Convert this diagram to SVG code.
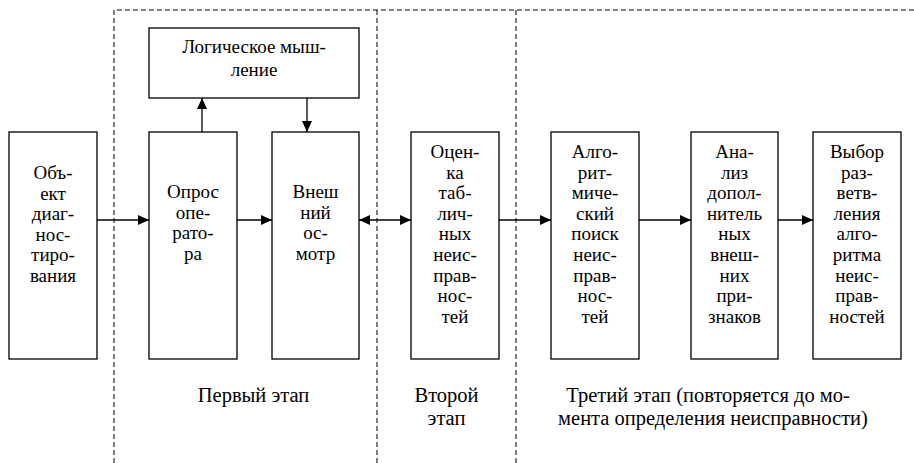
<svg xmlns="http://www.w3.org/2000/svg" width="914" height="463" viewBox="0 0 914 463">
  <style>
    .box { fill: #fff; stroke: #000; stroke-width: 1.3; }
    .stage { fill: none; stroke: #000; stroke-width: 1; stroke-dasharray: 5 3; }
    .conn { fill: none; stroke: #000; stroke-width: 1.3; }
    text { font-family: "Liberation Serif", "Times New Roman", serif; font-size: 19px; fill: #000; text-anchor: middle; }
    .caption { font-size: 20.5px; }
  </style>
  <defs>
    <marker id="arrow" markerUnits="userSpaceOnUse" markerWidth="12" markerHeight="11" refX="11" refY="5" orient="auto">
      <path d="M0,0 L11,5 L0,10 z" fill="#000"/>
    </marker>
    <marker id="arrowStart" markerUnits="userSpaceOnUse" markerWidth="12" markerHeight="11" refX="0" refY="5" orient="auto">
      <path d="M11,0 L0,5 L11,10 z" fill="#000"/>
    </marker>
  </defs>

  <!-- stage boundaries -->
  <g id="stages">
    <path class="stage" d="M114,463 V10 H914"/>
    <path class="stage" d="M377,10 V463"/>
    <path class="stage" d="M516,10 V463"/>
  </g>

  <!-- connectors -->
  <g id="connectors">
    <path class="conn" d="M97,220 H149" marker-end="url(#arrow)"/>
    <path class="conn" d="M237,220 H272" marker-end="url(#arrow)"/>
    <path class="conn" d="M359,220 H411" marker-start="url(#arrowStart)" marker-end="url(#arrow)"/>
    <path class="conn" d="M499,220 H551" marker-end="url(#arrow)"/>
    <path class="conn" d="M639,220 H691" marker-end="url(#arrow)"/>
    <path class="conn" d="M778,220 H813" marker-end="url(#arrow)"/>
    <path class="conn" d="M202,132 V98" marker-end="url(#arrow)"/>
    <path class="conn" d="M307,98 V132" marker-end="url(#arrow)"/>
  </g>

  <g id="object">
    <rect class="box" x="9" y="132" width="88" height="227"/>
    <text x="53" y="179">Объ-</text>
    <text x="53" y="199.6">ект</text>
    <text x="53" y="220.2">диаг-</text>
    <text x="53" y="240.8">нос-</text>
    <text x="53" y="261.4">тиро-</text>
    <text x="53" y="282">вания</text>
  </g>

  <g id="logic">
    <rect class="box" x="149" y="28" width="210" height="70"/>
    <text x="254" y="53">Логическое мыш-</text>
    <text x="254" y="76">ление</text>
  </g>

  <g id="survey">
    <rect class="box" x="149" y="132" width="88" height="227"/>
    <text x="193" y="198">Опрос</text>
    <text x="193" y="218.6">опе-</text>
    <text x="193" y="239.2">рато-</text>
    <text x="193" y="259.8">ра</text>
  </g>

  <g id="inspection">
    <rect class="box" x="272" y="132" width="87" height="227"/>
    <text x="315.5" y="198">Внеш</text>
    <text x="315.5" y="218.6">ний</text>
    <text x="315.5" y="239.2">ос-</text>
    <text x="315.5" y="259.8">мотр</text>
  </g>

  <g id="table-eval">
    <rect class="box" x="411" y="132" width="88" height="227"/>
    <text x="455" y="158">Оцен-</text>
    <text x="455" y="178.6">ка</text>
    <text x="455" y="199.2">таб-</text>
    <text x="455" y="219.8">лич-</text>
    <text x="455" y="240.4">ных</text>
    <text x="455" y="261">неис-</text>
    <text x="455" y="281.6">прав-</text>
    <text x="455" y="302.2">нос-</text>
    <text x="455" y="322.8">тей</text>
  </g>

  <g id="algo-search">
    <rect class="box" x="551" y="132" width="88" height="227"/>
    <text x="595" y="158">Алго-</text>
    <text x="595" y="178.6">рит-</text>
    <text x="595" y="199.2">миче-</text>
    <text x="595" y="219.8">ский</text>
    <text x="595" y="240.4">поиск</text>
    <text x="595" y="261">неис-</text>
    <text x="595" y="281.6">прав-</text>
    <text x="595" y="302.2">нос-</text>
    <text x="595" y="322.8">тей</text>
  </g>

  <g id="extra-analysis">
    <rect class="box" x="691" y="132" width="87" height="227"/>
    <text x="734.5" y="158">Ана-</text>
    <text x="734.5" y="178.6">лиз</text>
    <text x="734.5" y="199.2">допол-</text>
    <text x="734.5" y="219.8">нитель</text>
    <text x="734.5" y="240.4">ных</text>
    <text x="734.5" y="261">внеш-</text>
    <text x="734.5" y="281.6">них</text>
    <text x="734.5" y="302.2">при-</text>
    <text x="734.5" y="322.8">знаков</text>
  </g>

  <g id="branch-choice">
    <rect class="box" x="813" y="132" width="88" height="227"/>
    <text x="857" y="158">Выбор</text>
    <text x="857" y="178.6">раз-</text>
    <text x="857" y="199.2">ветв-</text>
    <text x="857" y="219.8">ления</text>
    <text x="857" y="240.4">алго-</text>
    <text x="857" y="261">ритма</text>
    <text x="857" y="281.6">неис-</text>
    <text x="857" y="302.2">прав-</text>
    <text x="857" y="322.8">ностей</text>
  </g>

  <!-- stage captions -->
  <g id="captions">
    <text class="caption" x="253.5" y="402">Первый этап</text>
    <text class="caption" x="446.5" y="402">Второй</text>
    <text class="caption" x="446.5" y="425">этап</text>
    <text class="caption" x="708" y="402">Третий этап (повторяется до мо-</text>
    <text class="caption" x="713" y="425">мента определения неисправности)</text>
  </g>
</svg>
